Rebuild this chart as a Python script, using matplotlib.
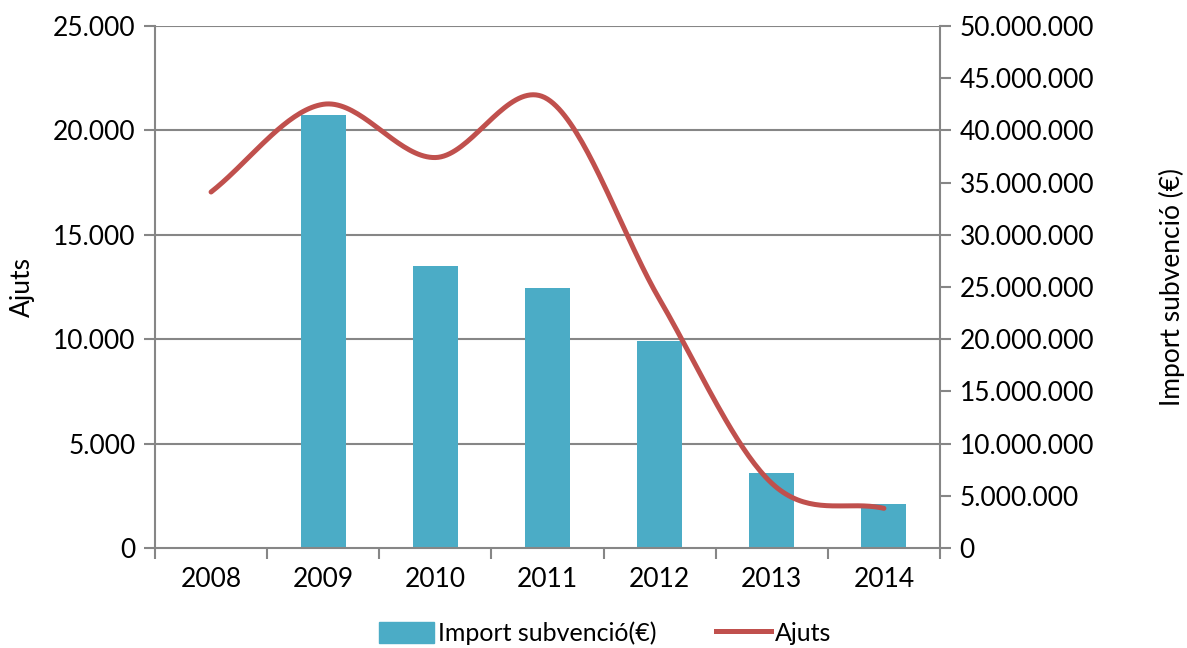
import numpy as np
import matplotlib
matplotlib.use('Agg')
import matplotlib.pyplot as plt
from matplotlib.ticker import FuncFormatter, MultipleLocator
from matplotlib.patches import Patch
from matplotlib.lines import Line2D

plt.rcParams['font.family'] = ['Lato', 'DejaVu Sans']

years = ['2008', '2009', '2010', '2011', '2012', '2013', '2014']
ajuts = [17050, 21250, 18700, 21500, 11900, 3100, 1900]
imports = [0, 41500000, 27000000, 24900000, 19800000, 7200000, 4200000]

bar_color = '#4BACC6'
line_color = '#C0504D'
grid_color = '#868686'
fs = 19


def dots(v, pos=None):
    return '{:,.0f}'.format(v).replace(',', '.')


def smooth(x, y, n=40):
    # catmull-rom, roughly what excel does for "smoothed line"
    x = np.asarray(x, float)
    y = np.asarray(y, float)
    px = np.concatenate([[2 * x[0] - x[1]], x, [2 * x[-1] - x[-2]]])
    py = np.concatenate([[2 * y[0] - y[1]], y, [2 * y[-1] - y[-2]]])
    xs, ys = [], []
    t = np.linspace(0, 1, n)
    for i in range(1, len(px) - 2):
        for p, out in ((px, xs), (py, ys)):
            p0, p1, p2, p3 = p[i - 1], p[i], p[i + 1], p[i + 2]
            out.extend(0.5 * (2 * p1 + (-p0 + p2) * t
                              + (2 * p0 - 5 * p1 + 4 * p2 - p3) * t ** 2
                              + (-p0 + 3 * p1 - 3 * p2 + p3) * t ** 3))
    return np.array(xs), np.array(ys)


fig = plt.figure(figsize=(11.87, 6.48), dpi=100)
ax = fig.add_axes([155 / 1187, 1 - 548 / 648, 785 / 1187, 522 / 648])
ax2 = ax.twinx()

x = np.arange(len(years))
ax2.bar(x, imports, width=0.4, color=bar_color, zorder=2)

sx, sy = smooth(x, ajuts)
ax.plot(sx, sy, color=line_color, lw=3.6, solid_capstyle='round', zorder=3)

ax.set_zorder(ax2.get_zorder() + 1)
ax.patch.set_visible(False)

ax.set_xlim(-0.5, len(years) - 0.5)
ax.set_ylim(0, 25000)
ax2.set_ylim(0, 50000000)
ax.yaxis.set_major_locator(MultipleLocator(5000))
ax2.yaxis.set_major_locator(MultipleLocator(5000000))
ax.yaxis.set_major_formatter(FuncFormatter(dots))
ax2.yaxis.set_major_formatter(FuncFormatter(dots))

ax.set_xticks(x)
ax.set_xticklabels(years)
ax.set_xticks(np.arange(-0.5, len(years)), minor=True)
ax.tick_params(axis='x', which='major', length=0, pad=14)
ax.tick_params(axis='x', which='minor', length=8, color=grid_color, width=1.5)

for a in (ax, ax2):
    a.tick_params(axis='y', length=8, color=grid_color, width=1.5, labelsize=fs, pad=6)
    for s in a.spines.values():
        s.set_visible(False)
ax.tick_params(axis='x', labelsize=fs)

ax.spines['left'].set_visible(True)
ax.spines['bottom'].set_visible(True)
ax2.spines['right'].set_visible(True)
for a, k in ((ax, 'left'), (ax, 'bottom'), (ax2, 'right')):
    a.spines[k].set_color(grid_color)
    a.spines[k].set_linewidth(1.5)

for v in range(5000, 25001, 5000):
    ax2.axhline(v * 2000, color=grid_color, lw=1.5, zorder=0)

ax.set_ylabel('Ajuts', fontsize=fs)
ax.yaxis.set_label_coords(-0.153, 0.5)
ax2.set_ylabel('Import subvenció (€)', fontsize=fs, rotation=90, va='center')
ax2.yaxis.set_label_coords(1.2955, 0.5)

handles = [Patch(color=bar_color), Line2D([], [], color=line_color, lw=3.6)]
fig.legend(handles, ['Import subvenció(€)', 'Ajuts'], loc='lower center',
           bbox_to_anchor=(0.51, -0.03), ncol=2, frameon=False, fontsize=18,
           handlelength=2.2, handleheight=0.9, handletextpad=0.15, columnspacing=2.4)

fig.savefig('out.png', dpi=100)
